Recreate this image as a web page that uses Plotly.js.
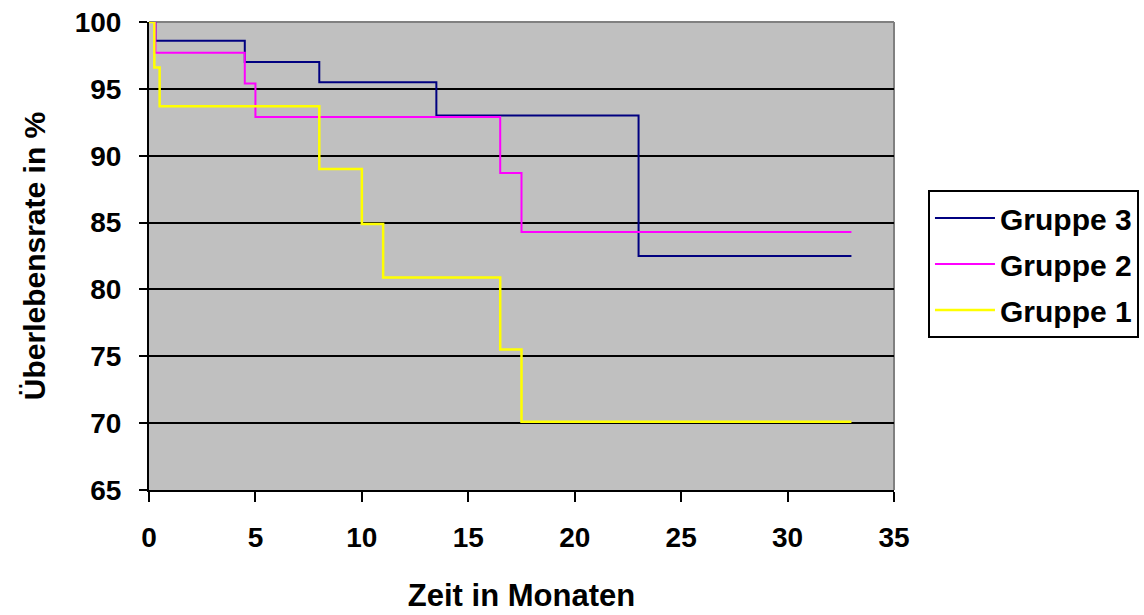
<!DOCTYPE html>
<html>
<head>
<meta charset="utf-8">
<script src="https://cdn.plot.ly/plotly-3.0.1.min.js"></script>
<style>
  html, body { margin: 0; padding: 0; background: #ffffff; }
  #chart { width: 1144px; height: 615px; }
</style>
</head>
<body>
<div id="chart"></div>
<script>
// Kaplan-Meier survival steps per group (time in months, survival in %)
const gruppe3Monate = [0, 0.3, 4.5, 8, 13.5, 23, 33];
const gruppe3Rate   = [100, 98.6, 97.0, 95.5, 93.0, 82.5, 82.5];

const gruppe2Monate = [0, 0.3, 4.5, 5, 16.5, 17.5, 33];
const gruppe2Rate   = [100, 97.7, 95.4, 92.9, 88.7, 84.3, 84.3];

const gruppe1Monate = [0, 0.25, 0.5, 8, 10, 11, 16.5, 17.5, 33];
const gruppe1Rate   = [100, 96.6, 93.7, 89.0, 84.9, 80.9, 75.5, 70.1, 70.1];

const xTicks = [0, 5, 10, 15, 20, 25, 30, 35];
const yTicks = [65, 70, 75, 80, 85, 90, 95, 100];

const baseFont = { family: 'Liberation Sans, Arial, sans-serif', color: '#000000', weight: 'bold' };

function stepTrace(name, x, y, color, width, group) {
  return {
    type: 'scatter', mode: 'lines', name: name,
    x: x, y: y,
    line: { shape: 'hv', color: color, width: width },
    legendgroup: group,
    hoverinfo: 'x+y+name'
  };
}

const traces = [
  stepTrace('Gruppe 3', gruppe3Monate, gruppe3Rate, '#000080', 2, 'g3'),
  stepTrace('Gruppe 2', gruppe2Monate, gruppe2Rate, '#FF00FF', 2, 'g2'),
  stepTrace('Gruppe 1', gruppe1Monate, gruppe1Rate, '#FFFF00', 2.5, 'g1')
];

const layout = {
  width: 1144, height: 615,
  margin: { l: 149, r: 250, t: 22, b: 125, autoexpand: false },
  paper_bgcolor: '#ffffff',
  plot_bgcolor: '#C0C0C0',
  font: Object.assign({}, baseFont, { size: 26 }),
  showlegend: true,
  xaxis: {
    range: [0, 35], tickvals: xTicks, ticktext: xTicks.map(String),
    showgrid: false, zeroline: false,
    showline: true, linecolor: '#000000', linewidth: 2,
    ticks: 'outside', ticklen: 10, tickwidth: 2, tickcolor: '#000000',
    ticklabelstandoff: 11,
    tickfont: Object.assign({}, baseFont, { size: 28 }),
    title: { text: 'Zeit in Monaten', font: Object.assign({}, baseFont, { size: 31 }), standoff: 33 },
    fixedrange: true
  },
  yaxis: {
    range: [65, 100], tickvals: yTicks, ticktext: yTicks.map(String),
    showgrid: true, gridcolor: '#000000', gridwidth: 2,
    zeroline: false,
    showline: true, linecolor: '#000000', linewidth: 2,
    ticks: 'outside', ticklen: 8, tickwidth: 2, tickcolor: '#000000',
    ticklabelstandoff: 12,
    tickfont: Object.assign({}, baseFont, { size: 28 }),
    title: { text: 'Überlebensrate in %', font: Object.assign({}, baseFont, { size: 30 }), standoff: 20 },
    fixedrange: true
  },
  legend: {
    x: 1.0456, xanchor: 'left',
    y: 0.641, yanchor: 'top',
    bgcolor: '#ffffff', bordercolor: '#000000', borderwidth: 2,
    font: Object.assign({}, baseFont, { size: 30 }),
    tracegroupgap: 4,
    itemwidth: 60
  },
  shapes: [
    // grey frame on the top and right sides of the plot area
    { type: 'line', xref: 'paper', yref: 'paper', x0: 0, x1: 1, y0: 1, y1: 1,
      line: { color: '#808080', width: 2 }, layer: 'between' },
    { type: 'line', xref: 'paper', yref: 'paper', x0: 1, x1: 1, y0: 0, y1: 1,
      line: { color: '#808080', width: 2 }, layer: 'between' }
  ]
};

Plotly.newPlot('chart', traces, layout, { displayModeBar: false, staticPlot: true });
</script>
</body>
</html>
